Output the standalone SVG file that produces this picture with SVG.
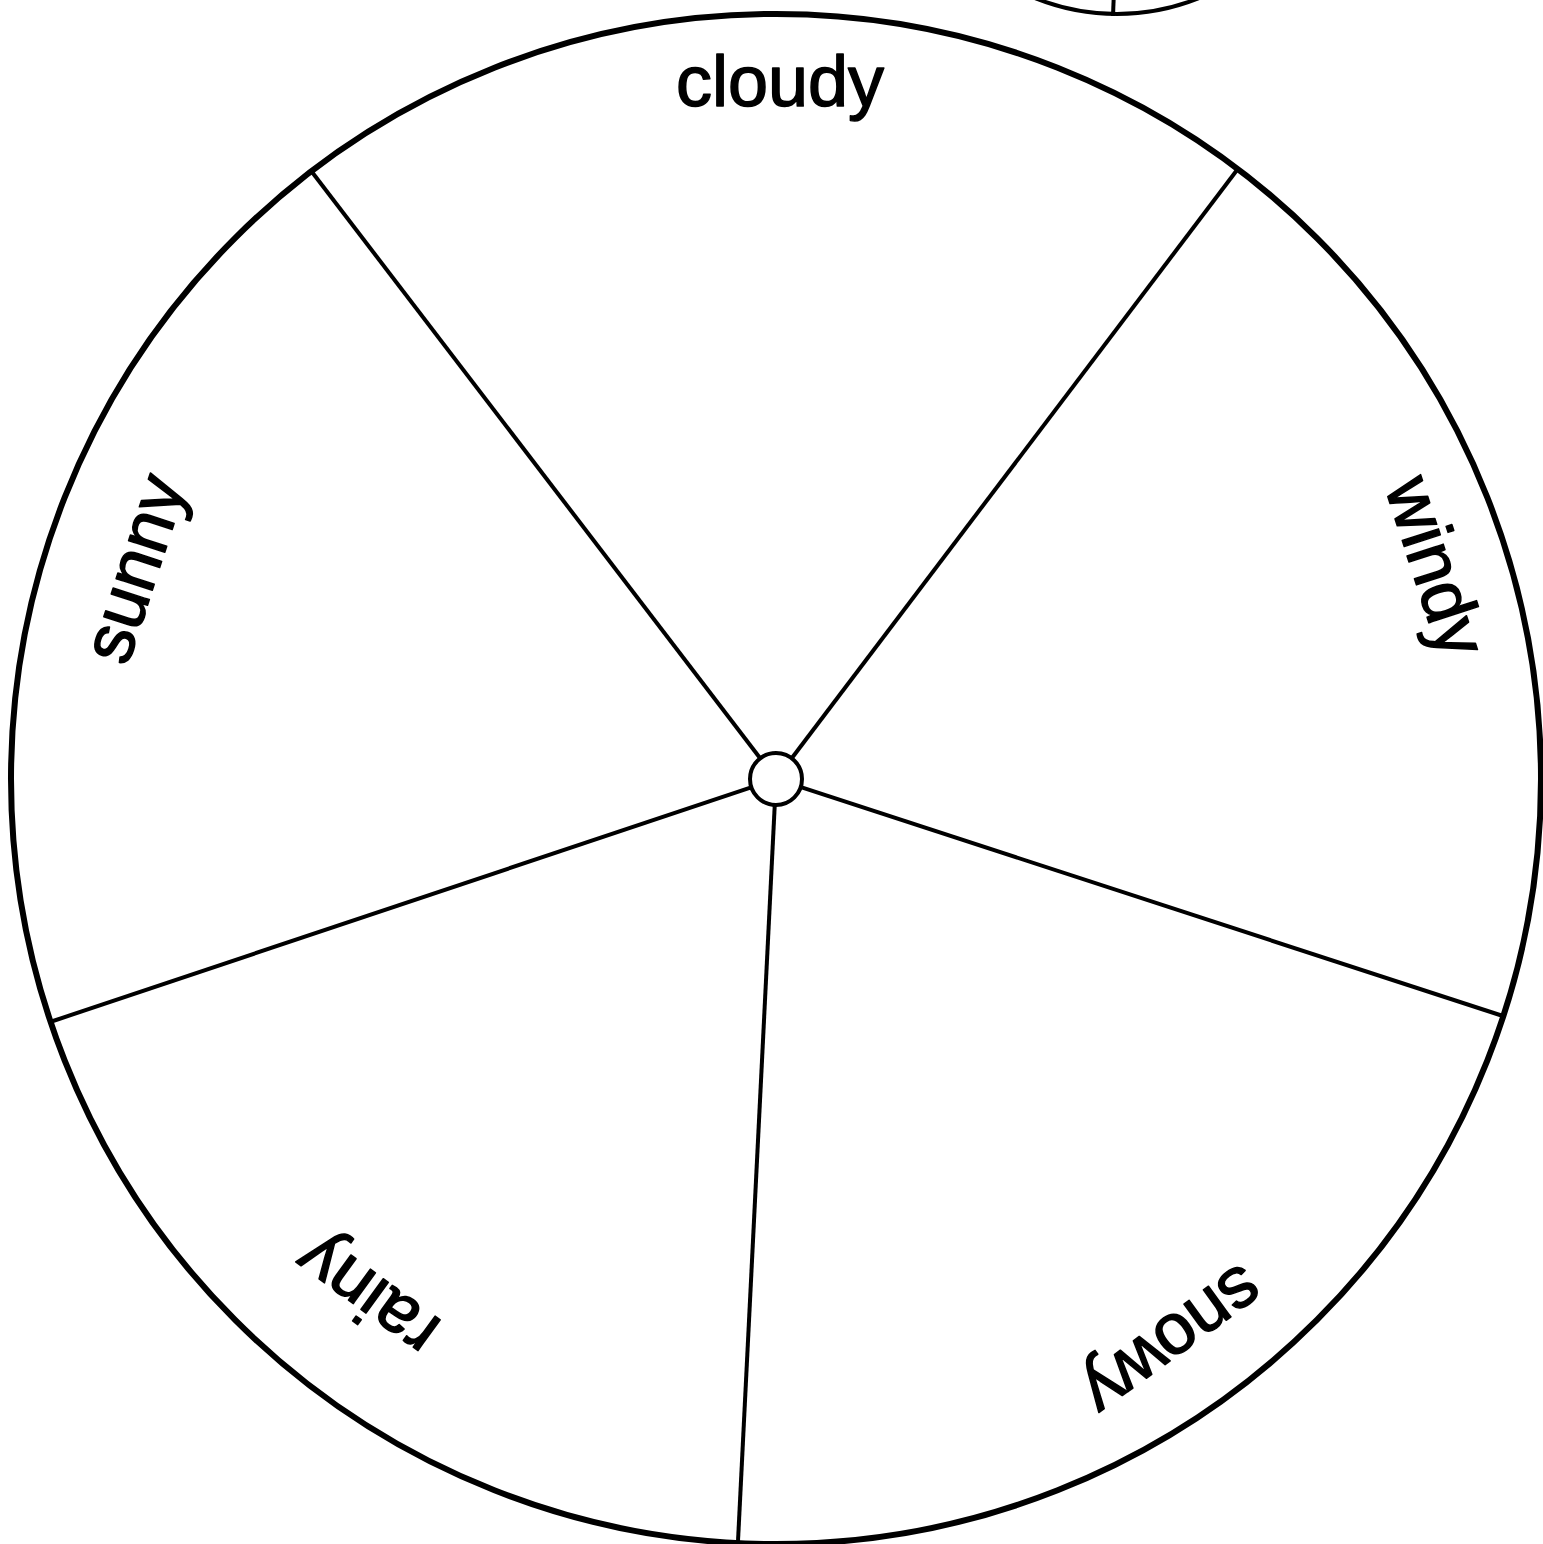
<svg xmlns="http://www.w3.org/2000/svg" width="1543" height="1544" viewBox="0 0 1543 1544">
  <style>
    .rim { fill: none; stroke: #000; stroke-width: 6; }
    .spoke { stroke: #000; stroke-width: 4; stroke-linecap: butt; }
    .hub { fill: #fff; stroke: #000; stroke-width: 4; }
    .label { font-family: "Comic Sans MS", "Liberation Sans", sans-serif; font-size: 72px; fill: #000; stroke: #000; stroke-width: 1.5; stroke-linejoin: round; text-anchor: middle; }
  </style>
  <rect width="1543" height="1544" fill="#fff"/>
  <g id="other-spinner">
    <circle cx="1117" cy="-205" r="219" fill="none" stroke="#000" stroke-width="4"/>
    <line x1="1113" y1="16" x2="1114" y2="-10" stroke="#000" stroke-width="4"/>
  </g>
  <g id="wheel">
    <circle class="rim" cx="776" cy="779" r="765"/>
  </g>
  <g id="connectors">
    <line class="spoke" x1="759.6" y1="757.5" x2="312" y2="172"/>
    <line class="spoke" x1="792.3" y1="757.5" x2="1237" y2="170"/>
    <line class="spoke" x1="801.7" y1="787.4" x2="1503" y2="1016"/>
    <line class="spoke" x1="774.7" y1="806" x2="738" y2="1541"/>
    <line class="spoke" x1="750.4" y1="787.6" x2="50" y2="1022"/>
  </g>
  <g id="hub">
    <circle class="hub" cx="776" cy="779" r="26"/>
  </g>
  <g id="label-cloudy">
    <text class="label" transform="translate(780,106) rotate(0)">cloudy</text>
  </g>
  <g id="label-windy">
    <text class="label" transform="translate(1413,574) rotate(72)">windy</text>
  </g>
  <g id="label-snowy">
    <text class="label" transform="translate(1159,1322) rotate(144)">snowy</text>
  </g>
  <g id="label-rainy">
    <text class="label" transform="translate(381,1277) rotate(216)">rainy</text>
  </g>
  <g id="label-sunny">
    <text class="label" transform="translate(157,576) rotate(288)">sunny</text>
  </g>
</svg>
